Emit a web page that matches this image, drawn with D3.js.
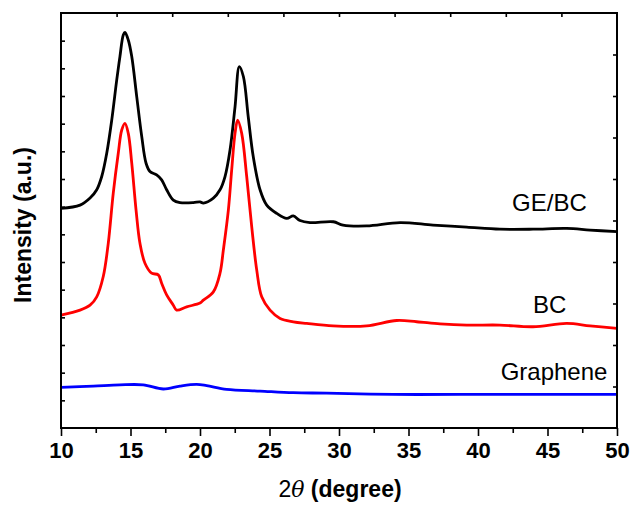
<!DOCTYPE html>
<html>
<head>
<meta charset="utf-8">
<script src="https://cdn.jsdelivr.net/npm/d3@7"></script>
<style>
    body { margin: 0; background: #fff; }
    svg text { font-family: Arial, "Liberation Sans", sans-serif; }
</style>
</head>
<body>
<div id="chart"></div>
<script>
// XRD patterns (intensity in arbitrary units)
var geBcTheta = [10.0, 11.37, 12.09, 12.57, 12.93, 13.29, 13.65, 14.01, 14.24, 14.48, 14.60, 14.84, 15.09, 15.45, 15.81, 16.12, 16.40, 16.88, 17.24, 17.60, 18.08, 18.56, 19.52, 20.00, 20.24, 20.96, 21.44, 21.80, 22.16, 22.52, 22.83, 23.12, 23.47, 23.83, 24.32, 24.80, 25.52, 26.24, 26.71, 27.19, 27.91, 29.59, 30.29, 31.99, 34.39, 36.76, 39.19, 41.58, 43.96, 46.38, 48.06, 50.0];
var geBcInt = [529, 537, 554, 574, 606, 662, 742, 839, 895, 947, 953, 935, 895, 798, 702, 638, 618, 610, 598, 574, 549, 543, 543, 545, 542, 554, 574, 606, 670, 774, 871, 847, 750, 654, 574, 537, 517, 505, 511, 500, 495, 497, 489, 487, 495, 489, 484, 479, 479, 481, 477, 473];

var bcTheta = [10.0, 11.37, 12.09, 12.57, 13.04, 13.40, 13.76, 14.12, 14.37, 14.60, 14.84, 15.09, 15.40, 15.68, 16.04, 16.52, 17.00, 17.24, 17.60, 18.08, 18.32, 19.04, 20.00, 20.24, 20.96, 21.44, 21.68, 22.04, 22.28, 22.52, 22.71, 23.00, 23.36, 23.72, 24.08, 24.44, 25.04, 25.76, 26.71, 27.68, 29.57, 31.99, 34.15, 35.59, 37.27, 39.19, 41.58, 43.96, 46.38, 48.06, 50.0];
var bcInt = [272, 284, 296, 316, 365, 445, 566, 662, 718, 734, 710, 638, 525, 445, 397, 373, 369, 349, 321, 296, 284, 292, 301, 308, 328, 373, 429, 525, 622, 710, 742, 710, 606, 485, 381, 316, 284, 264, 256, 252, 246, 246, 259, 256, 251, 248, 248, 244, 252, 246, 240];

var grTheta = [10.0, 12.32, 14.24, 15.92, 17.36, 18.56, 19.76, 20.48, 21.92, 24.32, 26.71, 29.11, 33.91, 38.71, 43.50, 47.34, 50.0];
var grInt = [98, 101, 104, 104, 94, 101, 105, 102, 93, 89, 85, 84, 81, 81, 81, 81, 81];

var seriesNames = ["GE/BC", "BC", "Graphene"];
var seriesColors = ["#000000", "#ff0000", "#0000ff"];
var xTicks = [10, 15, 20, 25, 30, 35, 40, 45, 50];

var margin = { top: 13, right: 19, bottom: 82, left: 61 },
    fullW = 636, fullH = 510,
    width = fullW - margin.left - margin.right,
    height = fullH - margin.top - margin.bottom;

var svg = d3.select("#chart")
    .append("svg")
    .attr("width", fullW)
    .attr("height", fullH)
    .append("g")
    .attr("transform", "translate(" + margin.left + "," + margin.top + ")");

var x = d3.scaleLinear().domain([10, 50]).range([0, width]);
var y = d3.scaleLinear().domain([0, 1000]).range([height, 0]);

var dataSets = [
    { name: seriesNames[0], color: seriesColors[0], data: geBcTheta.map((t, i) => ({ t: t, v: geBcInt[i] })) },
    { name: seriesNames[1], color: seriesColors[1], data: bcTheta.map((t, i) => ({ t: t, v: bcInt[i] })) },
    { name: seriesNames[2], color: seriesColors[2], data: grTheta.map((t, i) => ({ t: t, v: grInt[i] })) }
];

// bottom axis, major + minor ticks pointing out
var bottomMajor = svg.append("g")
    .attr("transform", "translate(0," + height + ")")
    .call(d3.axisBottom(x).tickValues(xTicks).tickSize(8).tickPadding(6).tickFormat(d3.format("d")));
bottomMajor.selectAll("text")
    .attr("font-size", 22)
    .attr("font-weight", "bold")
    .attr("fill", "#000");

svg.append("g")
    .attr("transform", "translate(0," + height + ")")
    .call(d3.axisBottom(x).tickValues(d3.range(12.5, 50, 5)).tickSize(5).tickFormat(""));

// top axis, ticks pointing in
svg.append("g")
    .call(d3.axisBottom(x).tickValues(d3.range(14, 50, 4)).tickSize(4).tickFormat(""));

// left axis, ticks pointing in
svg.append("g")
    .call(d3.axisRight(y).tickValues(d3.range(1, 15).map(i => i * 1000 / 15)).tickSize(4).tickFormat(""));

// right axis, ticks pointing in
svg.append("g")
    .attr("transform", "translate(" + width + ",0)")
    .call(d3.axisLeft(y).tickValues(d3.range(100, 1000, 100)).tickSize(4).tickFormat(""));

svg.selectAll(".domain").remove();
svg.selectAll(".tick line").attr("stroke", "#000").attr("stroke-width", 1.6);

// curves
var line = d3.line()
    .x(function (d) { return x(d.t); })
    .y(function (d) { return y(d.v); })
    .curve(d3.curveCatmullRom.alpha(0.5));

dataSets.forEach(function (s) {
    svg.append("path")
        .datum(s.data)
        .attr("fill", "none")
        .attr("stroke", s.color)
        .attr("stroke-width", 2.8)
        .attr("stroke-linejoin", "round")
        .attr("d", line);
});

// frame
svg.append("rect")
    .attr("width", width)
    .attr("height", height)
    .attr("fill", "none")
    .attr("stroke", "#000")
    .attr("stroke-width", 2);

// series labels
var labelPos = [{ t: 42.45, v: 524 }, { t: 43.96, v: 278 }, { t: 41.63, v: 116 }];
dataSets.forEach(function (s, i) {
    svg.append("text")
        .attr("x", x(labelPos[i].t))
        .attr("y", y(labelPos[i].v))
        .attr("font-size", 24)
        .attr("fill", "#000")
        .text(s.name);
});

// axis titles
var xTitle = svg.append("text")
    .attr("x", width / 2 + 1)
    .attr("y", height + 69)
    .attr("text-anchor", "middle")
    .attr("font-size", 23)
    .attr("fill", "#000");
xTitle.append("tspan").text("2");
xTitle.append("tspan").attr("font-style", "italic").attr("font-family", "'DejaVu Serif', serif").attr("font-size", 22).text("\u03b8");
xTitle.append("tspan").attr("font-weight", "bold").text(" (degree)");

svg.append("text")
    .attr("transform", "translate(" + (-30) + "," + 212 + ") rotate(-90)")
    .attr("text-anchor", "middle")
    .attr("font-size", 23)
    .attr("font-weight", "bold")
    .attr("fill", "#000")
    .text("Intensity (a.u.)");
</script>
</body>
</html>
